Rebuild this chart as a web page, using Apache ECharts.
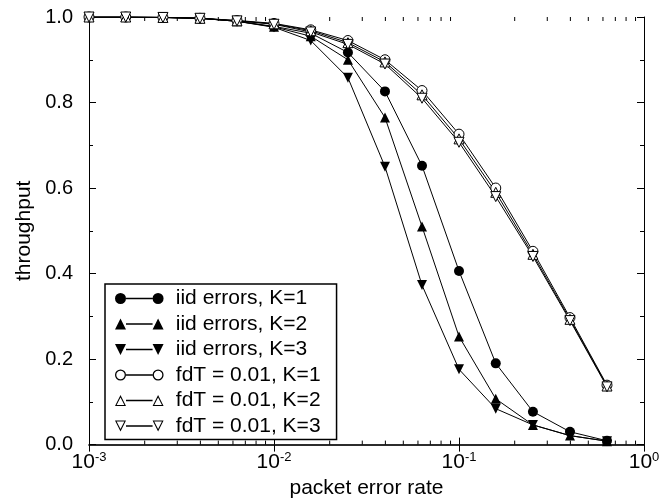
<!DOCTYPE html>
<html>
<head>
<meta charset="utf-8">
<script src="https://cdn.jsdelivr.net/npm/echarts@6/dist/echarts.min.js"></script>
<style>
html, body { margin: 0; padding: 0; background: #fff; }
#chart { width: 666px; height: 504px; }
</style>
</head>
<body>
<div id="chart"></div>
<script>
// packet error rate, 5 points per decade
var errorRate = [0.001, 0.00158, 0.00251, 0.00398, 0.00631, 0.01, 0.0158, 0.0251, 0.0398, 0.0631, 0.1, 0.158, 0.251, 0.398, 0.631];

var iidK1 = [1.0, 1.0, 0.999, 0.997, 0.99, 0.978, 0.962, 0.917, 0.826, 0.652, 0.406, 0.19, 0.077, 0.03, 0.009];
var iidK2 = [1.0, 1.0, 0.999, 0.997, 0.99, 0.977, 0.955, 0.90, 0.765, 0.51, 0.253, 0.107, 0.046, 0.021, 0.008];
var iidK3 = [1.0, 1.0, 0.999, 0.997, 0.99, 0.976, 0.945, 0.858, 0.65, 0.373, 0.176, 0.084, 0.046, 0.021, 0.008];
var fdtK1 = [1.0, 1.0, 0.999, 0.997, 0.992, 0.985, 0.97, 0.945, 0.90, 0.828, 0.726, 0.60, 0.452, 0.297, 0.139];
var fdtK2 = [1.0, 1.0, 0.999, 0.997, 0.991, 0.984, 0.968, 0.94, 0.895, 0.818, 0.715, 0.59, 0.445, 0.293, 0.137];
var fdtK3 = [1.0, 1.0, 0.999, 0.997, 0.991, 0.983, 0.965, 0.936, 0.89, 0.81, 0.707, 0.58, 0.44, 0.29, 0.135];

var seriesNames = ['iid errors, K=1', 'iid errors, K=2', 'iid errors, K=3',
    'fdT = 0.01, K=1', 'fdT = 0.01, K=2', 'fdT = 0.01, K=3'];

// minor ticks of the log axis (2..9 in each decade)
var minorTickVals = [0.002, 0.003, 0.004, 0.005, 0.006, 0.007, 0.008, 0.009,
    0.02, 0.03, 0.04, 0.05, 0.06, 0.07, 0.08, 0.09,
    0.2, 0.3, 0.4, 0.5, 0.6, 0.7, 0.8, 0.9];

var font = '"Liberation Sans", Arial, Helvetica, sans-serif';
var chart = echarts.init(document.getElementById('chart'));

// legend icons: marker - line - marker, drawn in a 53x12 box
var bar = 'M12,5.2 L41,5.2 L41,6.8 L12,6.8 Z ';
function dot(cx) {
    return 'M' + (cx - 6) + ',6 a6,6 0 1,0 12,0 a6,6 0 1,0 -12,0 Z ';
}
function ring(cx) {
    return dot(cx) + 'M' + (cx - 4.6) + ',6 a4.6,4.6 0 1,1 9.2,0 a4.6,4.6 0 1,1 -9.2,0 Z ';
}
function triUp(cx) {
    return 'M' + (cx - 6) + ',12 L' + cx + ',0 L' + (cx + 6) + ',12 Z ';
}
function triUpHole(cx) {
    return triUp(cx) + 'M' + (cx - 4.2) + ',11 L' + (cx + 4.2) + ',11 L' + cx + ',2.6 Z ';
}
function triDown(cx) {
    return 'M' + (cx - 6) + ',0 L' + (cx + 6) + ',0 L' + cx + ',12 Z ';
}
function triDownHole(cx) {
    return triDown(cx) + 'M' + (cx - 4.2) + ',1 L' + cx + ',9.4 L' + (cx + 4.2) + ',1 Z ';
}
var legendIcons = [
    'path://' + dot(6) + bar + dot(47),
    'path://' + triUp(6) + bar + triUp(47),
    'path://' + triDown(6) + bar + triDown(47),
    'path://' + ring(6) + bar + ring(47),
    'path://' + triUpHole(6) + bar + triUpHole(47),
    'path://' + triDownHole(6) + bar + triDownHole(47)
];

function makeSeries(name, values, symbol, rotate, filled) {
    return {
        name: name,
        type: 'line',
        data: errorRate.map(function(x, i) { return [x, values[i]]; }),
        symbol: symbol,
        symbolRotate: rotate,
        symbolSize: 10,
        showAllSymbol: true,
        lineStyle: { color: '#000', width: 1 },
        itemStyle: filled ? { color: '#000' } : { color: '#fff', borderColor: '#000', borderWidth: 1 },
        emphasis: { disabled: true },
        z: filled ? 2 : 3
    };
}

var tickStyle = { inside: true, length: 7, lineStyle: { color: '#000', width: 1 } };

var option = {
    animation: false,
    backgroundColor: '#fff',
    grid: { left: 89, right: 22, top: 17, bottom: 56 },
    legend: {
        orient: 'vertical',
        left: 105,
        top: 284,
        itemWidth: 53,
        itemHeight: 11,
        itemGap: 4.5,
        padding: [4, 16, 3, 10],
        borderColor: '#000',
        borderWidth: 1.5,
        backgroundColor: '#fff',
        textStyle: { fontSize: 21, lineHeight: 21, fontFamily: font, color: '#000', padding: [0, 0, 0, 5] },
        data: seriesNames.map(function(n, i) {
            return {
                name: n,
                icon: legendIcons[i],
                itemStyle: { color: '#000', borderWidth: 0 }
            };
        })
    },
    xAxis: [{
        type: 'log',
        logBase: 10,
        min: 0.001,
        max: 1,
        name: 'packet error rate',
        nameLocation: 'middle',
        nameGap: 30,
        nameTextStyle: { fontSize: 21, fontFamily: font, color: '#000' },
        axisLine: { lineStyle: { color: '#999', width: 1.5 } },
        axisTick: tickStyle,
        splitLine: { show: false },
        axisLabel: {
            margin: 6,
            formatter: function(v) {
                return '{b|10}{s|' + Math.round(Math.log10(v)) + '}';
            },
            rich: {
                b: { fontSize: 21, fontFamily: font, color: '#000', lineHeight: 24 },
                s: { fontSize: 13, fontFamily: font, color: '#000', lineHeight: 12, verticalAlign: 'top' }
            }
        }
    }, {
        type: 'log',
        logBase: 10,
        min: 0.001,
        max: 1,
        position: 'top',
        axisLine: { lineStyle: { color: '#000', width: 1.5 } },
        axisTick: tickStyle,
        axisLabel: { show: false },
        splitLine: { show: false }
    }],
    yAxis: [{
        type: 'value',
        min: 0,
        max: 1,
        interval: 0.2,
        name: 'throughput',
        nameLocation: 'middle',
        nameGap: 54,
        nameTextStyle: { fontSize: 21, fontFamily: font, color: '#000' },
        axisLine: { show: true, lineStyle: { color: '#000', width: 1 } },
        axisTick: tickStyle,
        minorTick: { show: true, splitNumber: 2, length: 4, lineStyle: { color: '#000' } },
        splitLine: { show: false },
        axisLabel: {
            margin: 16,
            fontSize: 20,
            fontFamily: font,
            color: '#000',
            formatter: function(v) { return v.toFixed(1); }
        }
    }, {
        type: 'value',
        min: 0,
        max: 1,
        interval: 0.2,
        position: 'right',
        axisLine: { show: true, lineStyle: { color: '#000', width: 1 } },
        axisTick: tickStyle,
        minorTick: { show: true, splitNumber: 2, length: 4, lineStyle: { color: '#000' } },
        splitLine: { show: false },
        axisLabel: { show: false }
    }],
    series: [
        makeSeries(seriesNames[0], iidK1, 'circle', 0, true),
        makeSeries(seriesNames[1], iidK2, 'triangle', 0, true),
        makeSeries(seriesNames[2], iidK3, 'triangle', 180, true),
        makeSeries(seriesNames[3], fdtK1, 'circle', 0, false),
        makeSeries(seriesNames[4], fdtK2, 'triangle', 0, false),
        makeSeries(seriesNames[5], fdtK3, 'triangle', 180, false),
        {
            type: 'custom',
            silent: true,
            clip: false,
            data: minorTickVals.map(function(v) { return [v, 0]; }),
            encode: { x: 0, y: 1 },
            renderItem: function(params, api) {
                var b = api.coord([api.value(0), 0]);
                var t = api.coord([api.value(0), 1]);
                return {
                    type: 'group',
                    children: [
                        { type: 'line', shape: { x1: b[0], y1: b[1], x2: b[0], y2: b[1] - 4 }, style: { stroke: '#000', lineWidth: 1 } },
                        { type: 'line', shape: { x1: t[0], y1: t[1], x2: t[0], y2: t[1] + 4 }, style: { stroke: '#000', lineWidth: 1 } }
                    ]
                };
            }
        }
    ]
};
chart.setOption(option);
</script>
</body>
</html>
